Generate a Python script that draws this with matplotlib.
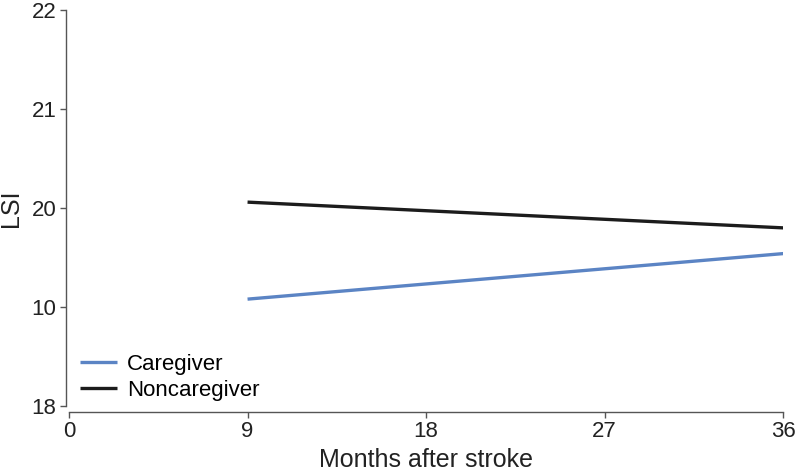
import numpy as np
import matplotlib.pyplot as plt

plt.rcParams['font.family'] = ['Liberation Sans', 'DejaVu Sans']

# data
months = [9, 36]
caregiver = [19.08, 19.54]
noncaregiver = [20.06, 19.80]

x_ticks = [0, 9, 18, 27, 36]
y_ticks = [18, 19, 20, 21, 22]
y_tick_labels = ['18', '10', '20', '21', '22']  # as printed in the figure

fig = plt.figure(figsize=(7.97, 4.73), dpi=100)
ax = fig.add_axes([0.0866, 0.1416, 0.896, 0.837])

ax.plot(months, caregiver, color='#5b84c4', lw=2.4, label='Caregiver', solid_capstyle='butt')
ax.plot(months, noncaregiver, color='#1c1c1c', lw=2.4, label='Noncaregiver', solid_capstyle='butt')

ax.set_xlim(0, 36)
ax.set_ylim(18, 22)
ax.set_xticks(x_ticks)
ax.set_yticks(y_ticks)
ax.set_yticklabels(y_tick_labels)

for s in ['top', 'right']:
    ax.spines[s].set_visible(False)
ax.spines['bottom'].set_position(('outward', 4))
ax.spines['left'].set_position(('outward', 2))
for s in ['bottom', 'left']:
    ax.spines[s].set_color('#555555')
    ax.spines[s].set_linewidth(1.0)

ax.tick_params(axis='both', direction='out', length=4, width=1, color='#555555',
               labelsize=16, labelcolor='#222222', pad=3)

ax.set_xlabel('Months after stroke', fontsize=18, color='#222222', labelpad=4)
ax.set_ylabel('LSI', fontsize=18, color='#222222', labelpad=6)

ax.legend(loc='lower left', frameon=False, fontsize=16, handlelength=1.65,
          handletextpad=0.45, labelspacing=0.22, borderaxespad=0.0,
          bbox_to_anchor=(0.003, -0.01))

fig.savefig('out.png', dpi=100)
